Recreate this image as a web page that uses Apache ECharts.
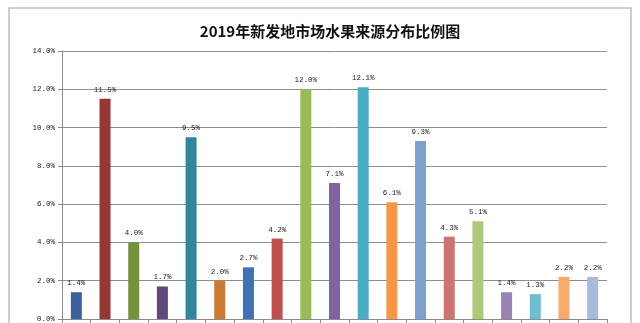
<!DOCTYPE html>
<html>
<head>
<meta charset="utf-8">
<script src="https://cdn.jsdelivr.net/npm/echarts@6/dist/echarts.min.js"></script>
<style>
html, body { margin: 0; padding: 0; background: #fff; }
#chart { width: 640px; height: 323px; }
</style>
</head>
<body>
<div id="chart"></div>
<script>
// Share of fruit arriving at Xinfadi market, by source (percent)
const categories = ['1', '2', '3', '4', '5', '6', '7', '8', '9', '10',
                    '11', '12', '13', '14', '15', '16', '17', '18', '19'];
const shares = [1.4, 11.5, 4.0, 1.7, 9.5, 2.0, 2.7, 4.2, 12.0, 7.1,
                12.1, 6.1, 9.3, 4.3, 5.1, 1.4, 1.3, 2.2, 2.2];
const barColors = ['#3A6199', '#953735', '#76923C', '#5F497A', '#31859C', '#CB7A35',
                   '#3F72B5', '#C0504D', '#9BBB59', '#8064A2', '#4BACC6', '#F79646',
                   '#7F9FCF', '#CD7371', '#AFC97A', '#9983B5', '#6FBDD1', '#F9AB6B', '#A7BBDF'];
const yTicks = { min: 0, max: 14, step: 2 };

const smallFont = '"Liberation Mono", "DejaVu Sans Mono", monospace';

const chart = echarts.init(document.getElementById('chart'), null, { renderer: 'canvas' });
chart.setOption({
  backgroundColor: '#ffffff',
  animation: false,
  title: {
    text: '2019年新发地市场水果来源分布比例图',
    left: 325,
    top: 19,
    textAlign: 'center',
    textStyle: {
      fontFamily: '"Noto Sans CJK SC", sans-serif',
      fontSize: 15,
      fontWeight: 'bold',
      color: '#111'
    }
  },
  graphic: [{
    type: 'rect',
    shape: { x: 9, y: 8, width: 622, height: 340 },
    style: { fill: 'none', stroke: '#bdbdbd', lineWidth: 1.5 },
    z: -1
  }],
  grid: { left: 62, right: 33, top: 51, bottom: 4 },
  xAxis: {
    type: 'category',
    data: categories,
    axisLine: { show: true, lineStyle: { color: '#8a8a8a', width: 1 } },
    axisTick: { show: true, length: 4, alignWithLabel: false, lineStyle: { color: '#8a8a8a' } },
    axisLabel: { show: false }
  },
  yAxis: {
    type: 'value',
    min: yTicks.min,
    max: yTicks.max,
    interval: yTicks.step,
    axisLine: { show: true, lineStyle: { color: '#8a8a8a', width: 1 } },
    axisTick: { show: true, length: 4, lineStyle: { color: '#8a8a8a' } },
    axisLabel: {
      margin: 7,
      fontFamily: smallFont,
      fontSize: 7.5,
      color: '#222',
      formatter: v => v.toFixed(1) + '%'
    },
    splitLine: { show: true, lineStyle: { color: '#8f8f8f', width: 1 } }
  },
  series: [{
    type: 'bar',
    data: shares.map((v, i) => ({ value: v, itemStyle: { color: barColors[i] } })),
    barWidth: 11,
    label: {
      show: true,
      position: 'top',
      distance: 5,
      fontFamily: smallFont,
      fontSize: 7.5,
      color: '#222',
      formatter: p => p.value.toFixed(1) + '%'
    }
  }]
});
</script>
</body>
</html>
